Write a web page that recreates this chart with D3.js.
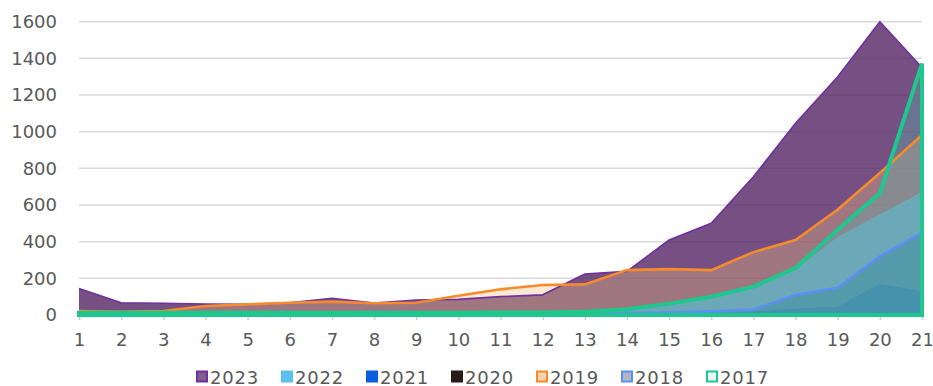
<!DOCTYPE html>
<html>
<head>
<meta charset="utf-8">
<script src="https://cdn.jsdelivr.net/npm/d3@7/dist/d3.min.js"></script>
<style>
  html, body { margin: 0; padding: 0; background: #ffffff; }
  svg { display: block; }
  text { font-family: "DejaVu Sans", sans-serif; fill: #595959; }
</style>
</head>
<body>
<svg id="chart" width="933" height="386"></svg>
<script>
// Week numbers on the x axis
const categories = d3.range(1, 22);

// Series values per week
const s2023 = [145, 67, 64, 60, 58, 67, 91, 65, 82, 85, 100, 110, 224, 238, 409, 500, 754, 1046, 1300, 1600, 1350];
const s2022 = [2, 2, 2, 2, 2, 2, 3, 3, 3, 3, 3, 4, 8, 25, 55, 95, 150, 250, 427, 548, 672];
const s2021 = [0, 0, 0, 0, 0, 0, 0, 0, 0, 0, 0, 0, 0, 0, 2, 5, 20, 35, 45, 170, 130];
const s2020 = [0, 0, 0, 0, 0, 0, 0, 0, 0, 0, 0, 0, 0, 0, 0, 1, 2, 3, 4, 6, 5];
const s2019 = [22, 18, 22, 49, 58, 67, 73, 64, 67, 105, 140, 164, 167, 245, 250, 245, 343, 409, 575, 775, 982];
const s2018 = [2, 2, 2, 2, 2, 2, 2, 2, 2, 2, 2, 3, 5, 10, 14, 20, 30, 109, 148, 320, 450];
const s2017 = [12, 12, 12, 12, 12, 12, 12, 12, 12, 12, 13, 14, 18, 31, 62, 100, 155, 256, 465, 665, 1372];

const yTicks = [0, 200, 400, 600, 800, 1000, 1200, 1400, 1600];

// Series styling (drawing order back to front)
const series = [
  { name: "2023", values: s2023, fill: "rgb(84,36,99)",    fillOpacity: 0.8,  line: "#7030a0", lineWidth: 1.6 },
  { name: "2019", values: s2019, fill: "rgb(240,190,130)", fillOpacity: 0.35, line: "#f58b2c", lineWidth: 2.6 },
  { name: "2022", values: s2022, fill: "rgb(91,192,235)",  fillOpacity: 0.6,  line: null },
  { name: "2021", values: s2021, fill: "rgb(11,94,215)",   fillOpacity: 0.35, line: null },
  { name: "2020", values: s2020, fill: "rgb(42,26,26)",    fillOpacity: 0.5,  line: null },
  { name: "2018", values: s2018, fill: "rgb(30,110,140)",  fillOpacity: 0.4,  line: "#5b8ff5", lineWidth: 2.6 },
  { name: "2017", values: s2017, fill: "rgb(90,180,170)",  fillOpacity: 0.35, line: "#1dc78e", lineWidth: 4, outline: true }
];

// Legend entries in display order
const legendItems = [
  { name: "2023", fill: "#7d5f95", stroke: "#7030a0" },
  { name: "2022", fill: "#5bc0eb", stroke: "#5bc0eb" },
  { name: "2021", fill: "#0a5fe0", stroke: "#0a5fe0" },
  { name: "2020", fill: "#2a1a1a", stroke: "#2a1a1a" },
  { name: "2019", fill: "#f8d2b0", stroke: "#f58b2c" },
  { name: "2018", fill: "#b4b6c4", stroke: "#5b8ff5" },
  { name: "2017", fill: "#e8f8f0", stroke: "#1dc78e" }
];

const svg = d3.select("#chart");
const x = d3.scalePoint().domain(categories).range([79, 922]);
const y = d3.scaleLinear().domain([0, 1600]).range([315, 21.7]);

// Gridlines
svg.append("g")
  .selectAll("line")
  .data(yTicks)
  .join("line")
  .attr("x1", x(1)).attr("x2", x(21))
  .attr("y1", d => y(d)).attr("y2", d => y(d))
  .attr("stroke", "#d9d9d9").attr("stroke-width", 1.5);

// Y axis labels
const yAxis = d3.axisLeft(y).tickValues(yTicks).tickSize(0).tickPadding(0).tickFormat(d3.format("d"));
svg.append("g")
  .attr("transform", "translate(57,0)")
  .call(yAxis)
  .call(g => g.select(".domain").remove())
  .selectAll("text")
  .attr("font-size", 18)
  .attr("font-family", "DejaVu Sans, sans-serif")
  .attr("fill", "#595959");

// X axis with short ticks
const xAxis = d3.axisBottom(x).tickSize(5).tickPadding(13);
svg.append("g")
  .attr("transform", "translate(0,315)")
  .call(xAxis)
  .call(g => g.select(".domain").attr("stroke", "#d9d9d9").attr("stroke-width", 1.5))
  .call(g => g.selectAll(".tick line").attr("stroke", "#d0d0d0").attr("stroke-width", 1.5))
  .selectAll("text")
  .attr("font-size", 18)
  .attr("font-family", "DejaVu Sans, sans-serif")
  .attr("fill", "#595959");

const area = d3.area()
  .x((d, i) => x(categories[i]))
  .y0(y(0))
  .y1(d => y(d));

const line = d3.line()
  .x((d, i) => x(categories[i]))
  .y(d => y(d));

const plot = svg.append("g");

// Filled areas
series.forEach(s => {
  plot.append("path")
    .datum(s.values)
    .attr("d", area)
    .attr("fill", s.fill)
    .attr("fill-opacity", s.fillOpacity)
    .attr("stroke", "none");
});

// Outlines on top of the fills
series.forEach(s => {
  if (!s.line) return;
  plot.append("path")
    .datum(s.values)
    .attr("d", s.outline ? area : line)
    .attr("fill", "none")
    .attr("stroke", s.line)
    .attr("stroke-width", s.lineWidth)
    .attr("stroke-linejoin", "miter");
});

// Legend
const legend = svg.append("g").attr("transform", "translate(196,0)");
legendItems.forEach((d, i) => {
  const g = legend.append("g").attr("transform", `translate(${i * 85},0)`);
  g.append("rect")
    .attr("x", 1).attr("y", 371.5)
    .attr("width", 10).attr("height", 10)
    .attr("fill", d.fill)
    .attr("stroke", d.stroke)
    .attr("stroke-width", 2);
  g.append("text")
    .attr("x", 14).attr("y", 383.5)
    .attr("font-size", 18)
    .attr("letter-spacing", 0.8)
    .text(d.name);
});
</script>
</body>
</html>
